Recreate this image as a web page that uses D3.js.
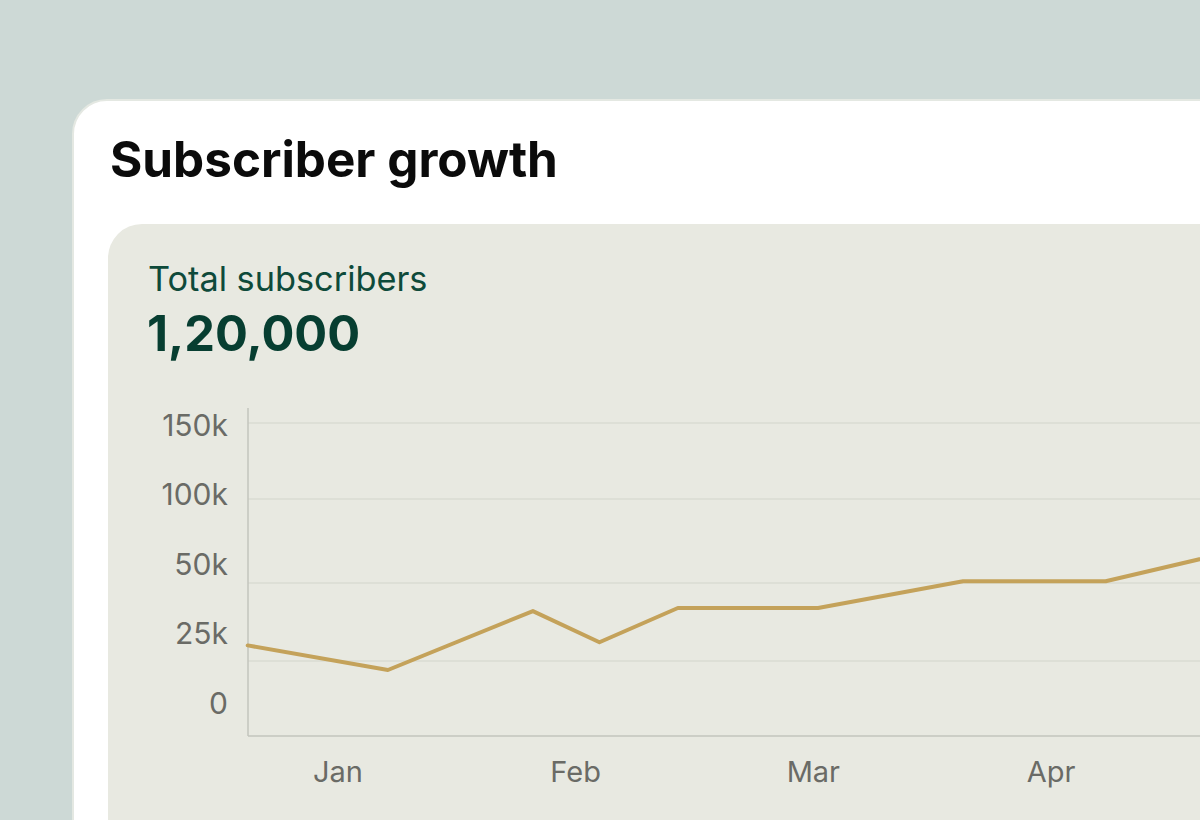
<!DOCTYPE html>
<html>
<head>
<meta charset="utf-8">
<script src="https://cdn.jsdelivr.net/npm/d3@7"></script>
<style>
body { margin: 0; background: #cdd9d6; overflow: hidden; }
svg { display: block; font-family: Inter, "Noto Sans", sans-serif; }
</style>
</head>
<body>
<script>
// chart values
const months = ['Jan', 'Feb', 'Mar', 'Apr']
const monthIndex = [1, 2, 3, 4]
const yTicks = [0, 25000, 50000, 100000, 150000]
const yTickLabels = ['0', '25k', '50k', '100k', '150k']
// position of each point in months (1 = Jan label)
const pointMonth = [0.62, 1.21, 1.82, 2.10, 2.43, 3.02, 3.63, 4.23, 4.83]
const subscribers = [30000, 22000, 41000, 31000, 42000, 42000, 51000, 51000, 71000]
const totalLabel = 'Total subscribers'
const totalValue = '1,20,000'

const m = { width: 1200, height: 820 }

const svg = d3.select('body').append('svg')
    .attr('width', m.width)
    .attr('height', m.height)

svg.append('rect')
    .attr('width', m.width).attr('height', m.height)
    .attr('fill', '#cdd9d6')

// white card
svg.append('rect')
    .attr('x', 73).attr('y', 100)
    .attr('width', 1300).attr('height', 900)
    .attr('rx', 34)
    .attr('fill', '#ffffff')
    .attr('stroke', '#e4e8e2')
    .attr('stroke-width', 2)

svg.append('text')
    .attr('x', 110).attr('y', 177)
    .attr('font-size', 49.4)
    .attr('font-weight', 700)
    .attr('fill', '#0b0b0b')
    .text('Subscriber growth')

// inner panel
svg.append('rect')
    .attr('x', 108).attr('y', 224)
    .attr('width', 1300).attr('height', 800)
    .attr('rx', 34)
    .attr('fill', '#e8e9e1')

svg.append('text')
    .attr('x', 148).attr('y', 291)
    .attr('font-size', 34.3)
    .attr('fill', '#0e4a3a')
    .text(totalLabel)

svg.append('text')
    .attr('x', 147).attr('y', 351)
    .attr('font-size', 48.8)
    .attr('font-weight', 700)
    .attr('fill', '#073e31')
    .text(totalValue)

const plot = { left: 248, bottom: 736, top: 408, right: 1260 }

const x = d3.scaleLinear()
    .domain([1, 4])
    .range([338, 1051])

// the gridlines are not evenly spaced in the original, so a polylinear scale
const y = d3.scaleLinear()
    .domain(yTicks)
    .range([plot.bottom, 661, 583, 499, 423])

// tick labels sit on an even spacing of their own
const yLabel = d3.scalePoint()
    .domain(yTickLabels)
    .range([703, 425])

const g = svg.append('g')

// gridlines
g.selectAll('.grid')
    .data(yTicks.filter(d => d > 0))
    .enter()
    .append('line')
        .attr('x1', plot.left).attr('x2', plot.right)
        .attr('y1', d => y(d)).attr('y2', d => y(d))
        .attr('stroke', '#dadbd2')
        .attr('stroke-width', 1.5)

// axis lines
g.append('line')
    .attr('x1', plot.left).attr('x2', plot.left)
    .attr('y1', plot.top).attr('y2', plot.bottom)
    .attr('stroke', '#c3c4bc').attr('stroke-width', 1.5)
g.append('line')
    .attr('x1', plot.left).attr('x2', plot.right)
    .attr('y1', plot.bottom).attr('y2', plot.bottom)
    .attr('stroke', '#c3c4bc').attr('stroke-width', 1.5)

g.selectAll('.ylab')
    .data(yTickLabels)
    .enter()
    .append('text')
        .attr('x', 228)
        .attr('y', d => yLabel(d))
        .attr('dy', '0.36em')
        .attr('text-anchor', 'end')
        .attr('font-size', 30)
        .attr('fill', '#6a6b66')
        .text(d => d)

g.selectAll('.xlab')
    .data(monthIndex)
    .enter()
    .append('text')
        .attr('x', d => x(d))
        .attr('y', 782)
        .attr('text-anchor', 'middle')
        .attr('font-size', 29)
        .attr('fill', '#6a6b66')
        .text((d, i) => months[i])

const line = d3.line()
    .x((d, i) => x(pointMonth[i]))
    .y(d => y(d))

g.append('path')
    .datum(subscribers)
    .attr('d', line)
    .attr('fill', 'none')
    .attr('stroke', '#c4a25a')
    .attr('stroke-width', 4)
    .attr('stroke-linejoin', 'round')
    .attr('stroke-linecap', 'round')
</script>
</body>
</html>
